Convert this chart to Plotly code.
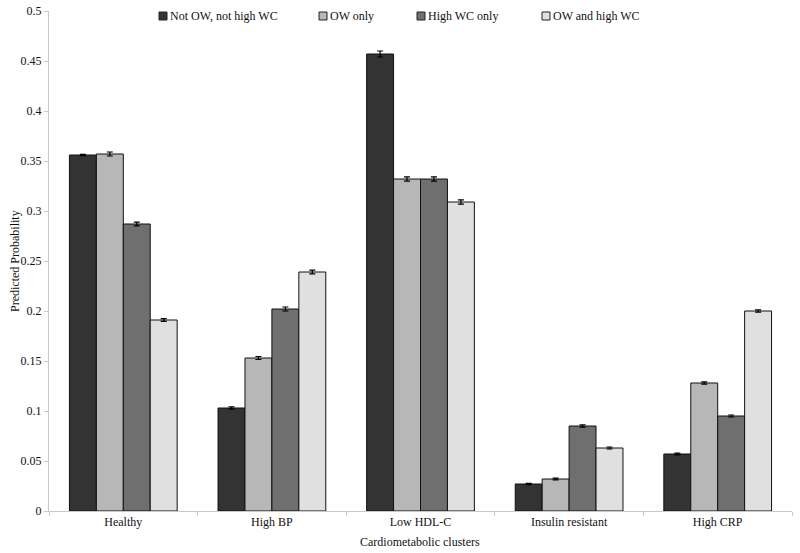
import plotly.graph_objects as go

categories = ["Healthy", "High BP", "Low HDL-C", "Insulin resistant", "High CRP"]
series_names = ["Not OW, not high WC", "OW only", "High WC only", "OW and high WC"]
not_ow = [0.356, 0.103, 0.457, 0.027, 0.057]
ow_only = [0.357, 0.153, 0.332, 0.032, 0.128]
wc_only = [0.287, 0.202, 0.332, 0.085, 0.095]
ow_wc = [0.191, 0.239, 0.309, 0.063, 0.200]
err_not_ow = [0.0006, 0.0012, 0.0030, 0.0006, 0.0008]
err_ow_only = [0.0020, 0.0015, 0.0022, 0.0008, 0.0012]
err_wc_only = [0.0018, 0.0020, 0.0022, 0.0012, 0.0010]
err_ow_wc = [0.0014, 0.0018, 0.0022, 0.0010, 0.0012]
colors = ["#333333", "#b7b7b7", "#6f6f6f", "#e0e0e0"]
x_title = "Cardiometabolic clusters"
y_title = "Predicted Probability"

values = [not_ow, ow_only, wc_only, ow_wc]
errors = [err_not_ow, err_ow_only, err_wc_only, err_ow_wc]

FONT = "Liberation Serif"

fig = go.Figure()
for name, vals, errs, col in zip(series_names, values, errors, colors):
    fig.add_trace(go.Bar(
        x=categories, y=vals, name=name,
        marker=dict(color=col, line=dict(color="#111111", width=1)),
        error_y=dict(type="data", array=errs, visible=True,
                     color="#000000", thickness=1.2, width=3),
        showlegend=False,
    ))

# body margin is removed via post_script, so figure coords = screen coords
W, H = 800, 553
L, R, T, B = 49, 792, 11, 511

def px_x(p):
    return (p - L) / (R - L)

def px_y(p):
    return (B - p) / (B - T)

legend_x = [159, 319, 417, 542]
shapes = []
annotations = []
for lx, name, col in zip(legend_x, series_names, colors):
    shapes.append(dict(type="rect", xref="paper", yref="paper",
                       x0=px_x(lx), x1=px_x(lx + 8), y0=px_y(20), y1=px_y(12),
                       fillcolor=col, line=dict(color="#222222", width=1)))
    annotations.append(dict(xref="paper", yref="paper", x=px_x(lx + 9), y=px_y(16),
                            xanchor="left", yanchor="middle", text=name, showarrow=False,
                            font=dict(family=FONT, size=12, color="#111111")))

annotations.append(dict(xref="paper", yref="paper", x=px_x(420), y=px_y(542),
                        xanchor="center", yanchor="middle", text=x_title, showarrow=False,
                        font=dict(family=FONT, size=12, color="#111111")))
annotations.append(dict(xref="paper", yref="paper", x=px_x(15), y=px_y(261),
                        xanchor="center", yanchor="middle", text=y_title, showarrow=False,
                        textangle=-90, font=dict(family=FONT, size=12, color="#111111")))

fig.update_layout(
    width=W, height=H,
    margin=dict(l=L, r=W - R, t=T, b=H - B, autoexpand=False),
    paper_bgcolor="white", plot_bgcolor="white",
    barmode="group", bargap=0.275, bargroupgap=0,
    hovermode=False,
    font=dict(family=FONT, size=12, color="#111111"),
    shapes=shapes, annotations=annotations,
    xaxis=dict(
        type="category", tickson="boundaries", ticks="outside", ticklen=4,
        tickcolor="#c8c8c8", showline=True, linecolor="#c8c8c8", linewidth=1,
        showgrid=False, automargin=False,
        tickfont=dict(family=FONT, size=12),
    ),
    yaxis=dict(
        range=[0, 0.5], dtick=0.05, tick0=0, ticks="outside", ticklen=4,
        tickcolor="#c8c8c8", showline=True, linecolor="#c8c8c8", linewidth=1,
        showgrid=False, zeroline=False, automargin=False,
        ticklabeloverflow="allow",
        tickfont=dict(family=FONT, size=12),
    ),
)

fig.write_html("out.html", config={"displayModeBar": False},
               post_script="document.body.style.margin='0px';")
